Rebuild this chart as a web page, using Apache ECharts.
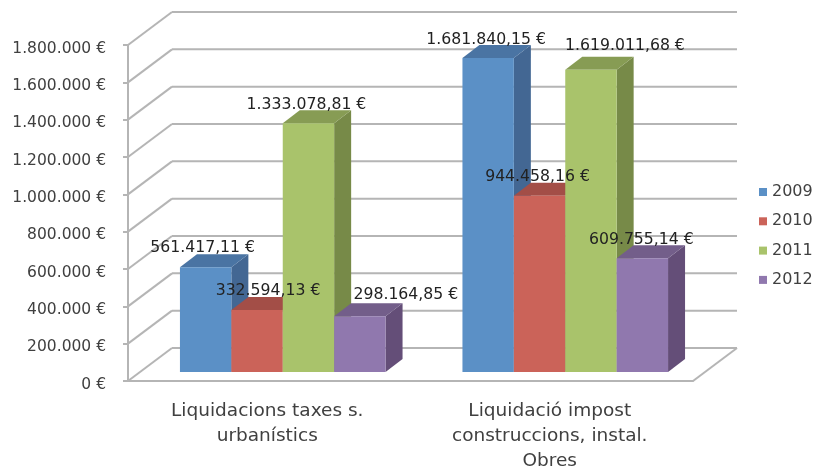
<!DOCTYPE html>
<html><head><meta charset="utf-8">
<style>html,body{margin:0;padding:0;background:#fff}#c{width:815px;height:469px;filter:blur(0.45px)}</style>
<script src="https://cdn.jsdelivr.net/npm/echarts@6/dist/echarts.min.js"></script>
</head><body><div id="c"></div>
<script>
const categories = ['Liquidacions taxes s.\nurbanístics', 'Liquidació impost\nconstruccions, instal.\nObres'];
const years = ['2009', '2010', '2011', '2012'];
const v2009 = [561417.11, 1681840.15];
const v2010 = [332594.13, 944458.16];
const v2011 = [1333078.81, 1619011.68];
const v2012 = [298164.85, 609755.14];
const yTicks = [0, 200000, 400000, 600000, 800000, 1000000, 1200000, 1400000, 1600000, 1800000];

const allValues = [v2009, v2010, v2011, v2012];
const front = ['#5b90c6', '#cb6359', '#a9c36b', '#9078ae'];
const top_ = ['#4a74a3', '#a34e47', '#879c54', '#735e8a'];
const side = ['#436793', '#93453f', '#778a48', '#644e78'];
const labelShift = [[[-3, -19], [-2, -18]], [[11, -19], [-2, -19]], [[-2, -18], [34, -24]], [[46, -21], [-1, -18]]];

const WALL_DX = 44, WALL_DY = -33, FRONT_DX = 13.5, FRONT_DY = -9, DEPTH_DX = 17, DEPTH_DY = -13, BAR_W = 51.4;
const GRID = '#b5b5b5', TXT = '#404040';

function fmt(n, dec) {
  const s = n.toFixed(dec).split('.');
  const i = s[0].replace(/\B(?=(\d{3})+(?!\d))/g, '.');
  return i + (dec ? ',' + s[1] : '') + ' €';
}
function barGeom(api, si, cat, val) {
  const p = api.coord([cat, val]), b = api.coord([cat, 0]);
  const x0 = p[0] + FRONT_DX + (si - 2) * BAR_W;
  return { x0, x1: x0 + BAR_W, yt: p[1] + FRONT_DY, yb: b[1] + FRONT_DY };
}
const poly = (points, fill) => ({ type: 'polygon', shape: { points }, style: { fill, stroke: null } });

const wall = {
  type: 'custom', silent: true, z: 1, clip: false,
  data: yTicks.map(t => [0, t]),
  renderItem(params, api) {
    const v = api.value(1), p = api.coord([0, v]);
    const rect = params.coordSys;
    const xl = rect.x, xr = rect.x + rect.width, y = p[1];
    const st = { stroke: GRID, lineWidth: 2, fill: null };
    const kids = [
      { type: 'line', shape: { x1: xl, y1: y, x2: xl + WALL_DX, y2: y + WALL_DY }, style: st },
      { type: 'line', shape: { x1: xl + WALL_DX, y1: y + WALL_DY, x2: xr + WALL_DX, y2: y + WALL_DY }, style: st }
    ];
    if (v === 0) kids.push({ type: 'line', shape: { x1: xr, y1: y, x2: xr + WALL_DX, y2: y + WALL_DY }, style: st });
    return { type: 'group', children: kids };
  }
};

const bars = years.map((name, si) => ({
  type: 'custom', name, z: 2, clip: false,
  itemStyle: { color: front[si] },
  data: allValues[si].map((v, i) => [i, v]),
  encode: { x: 0, y: 1 },
  renderItem(params, api) {
    const g = barGeom(api, si, api.value(0), api.value(1));
    return { type: 'group', children: [
      poly([[g.x1, g.yt], [g.x1 + DEPTH_DX, g.yt + DEPTH_DY], [g.x1 + DEPTH_DX, g.yb + DEPTH_DY], [g.x1, g.yb]], side[si]),
      poly([[g.x0, g.yt], [g.x0 + DEPTH_DX, g.yt + DEPTH_DY], [g.x1 + DEPTH_DX, g.yt + DEPTH_DY], [g.x1, g.yt]], top_[si]),
      { type: 'rect', shape: { x: g.x0, y: g.yt, width: BAR_W, height: g.yb - g.yt }, style: { fill: front[si] } }
    ] };
  }
}));

const labels = {
  type: 'custom', silent: true, z: 5, clip: false,
  data: allValues.flatMap((arr, si) => arr.map((v, i) => [i, v, si])),
  renderItem(params, api) {
    const cat = api.value(0), val = api.value(1), si = api.value(2);
    const g = barGeom(api, si, cat, val), sh = labelShift[si][cat];
    return { type: 'text', style: {
      text: fmt(val, 2), x: (g.x0 + g.x1) / 2 + sh[0], y: g.yt + sh[1],
      align: 'center', verticalAlign: 'middle', fill: '#222',
      font: '15.7px "DejaVu Sans"' } };
  }
};

const chart = echarts.init(document.getElementById('c'), null, { renderer: 'canvas' });
chart.setOption({
  animation: false,
  backgroundColor: '#fff',
  grid: { left: 128, right: 122, top: 45, bottom: 88, outerBoundsMode: 'none' },
  legend: {
    data: years, orient: 'vertical', left: 759, top: 183, padding: 0, icon: 'rect',
    itemWidth: 8, itemHeight: 8, itemGap: 11.3, selectedMode: false,
    textStyle: { color: TXT, fontSize: 16, lineHeight: 18, fontFamily: 'DejaVu Sans' }
  },
  xAxis: {
    type: 'category', data: categories,
    axisLine: { lineStyle: { color: GRID, width: 2 } },
    axisTick: { length: 5, lineStyle: { color: GRID, width: 2 } },
    axisLabel: { margin: 18, color: TXT, fontSize: 18.5, lineHeight: 25, fontFamily: 'DejaVu Sans', interval: 0, padding: [0, 4, 0, 0] }
  },
  yAxis: {
    type: 'value', min: 0, max: 1800000, interval: 200000,
    axisLine: { show: true, lineStyle: { color: GRID, width: 2 } },
    axisTick: { show: true, length: 5, lineStyle: { color: GRID, width: 2 } },
    splitLine: { show: false },
    axisLabel: { margin: 22, color: TXT, fontSize: 15.5, fontFamily: 'DejaVu Sans', verticalAlign: 'top', lineHeight: 7, formatter: v => fmt(v, 0) }
  },
  series: [wall, ...bars, labels]
});
</script></body></html>
